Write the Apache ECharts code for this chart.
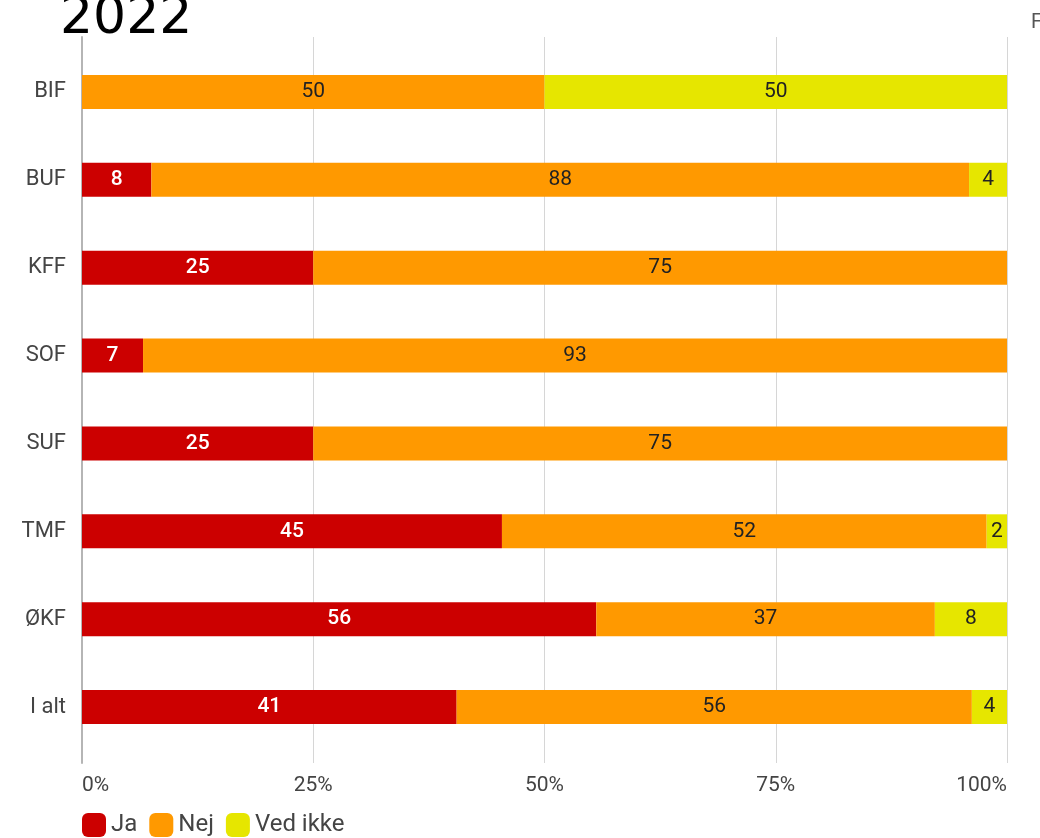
<!DOCTYPE html>
<html>
<head>
<meta charset="utf-8">
<script src="https://cdn.jsdelivr.net/npm/echarts@6/dist/echarts.min.js"></script>
<style>
    html, body { margin: 0; padding: 0; background: #fff; }
    #chart { width: 1040px; height: 838px; }
</style>
</head>
<body>
<div id="chart"></div>
<script>
// shares in percent
const categories = ['BIF', 'BUF', 'KFF', 'SOF', 'SUF', 'TMF', 'ØKF', 'I alt']
const jaValues = [0, 7.5, 25, 6.6, 25, 45.4, 55.6, 40.5]
const nejValues = [50, 88.4, 75, 93.4, 75, 52.4, 36.6, 55.7]
const vedIkkeValues = [50, 4.1, 0, 0, 0, 2.2, 7.8, 3.8]
const xTicks = [0, 25, 50, 75, 100]

const font = 'Roboto'

function makeSeries(name, data, color, labelColor) {
    return {
        name: name,
        type: 'bar',
        stack: 'total',
        xAxisIndex: 1,
        yAxisIndex: 1,
        barWidth: 34,
        data: data,
        itemStyle: { color: color },
        label: {
            show: true,
            position: 'inside',
            color: labelColor,
            fontFamily: font,
            fontSize: 21,
            fontWeight: labelColor === '#fff' ? 500 : 'normal',
            formatter: p => (p.value > 0 ? Math.round(p.value) : ''),
        },
    }
}

const chart = echarts.init(document.getElementById('chart'))
chart.setOption({
    animation: false,
    title: {
        text: '2022',
        left: 55,
        top: -12,
        textStyle: {
            fontFamily: 'DejaVu Sans',
            fontSize: 52,
            fontWeight: 'normal',
            color: '#000',
        },
    },
    graphic: [{
        type: 'text',
        left: 1031,
        top: 13,
        style: { text: 'F', fontFamily: font, fontSize: 20, fill: '#555' },
    }],
    legend: {
        left: 77,
        top: 808,
        itemWidth: 24,
        itemHeight: 24,
        itemGap: 12,
        icon: 'roundRect',
        textStyle: { fontFamily: font, fontSize: 24, color: '#444' },
        data: ['Ja', 'Nej', 'Ved ikke'],
    },
    grid: [
        { left: 82, right: 33, top: 37, bottom: 75 },
        { left: 82, right: 33, top: 48, bottom: 87 },
    ],
    xAxis: [
        {
            gridIndex: 0,
            type: 'value',
            min: 0,
            max: 100,
            interval: 25,
            axisLine: { show: false },
            axisTick: { show: false },
            splitLine: { lineStyle: { color: '#d6d6d6', width: 1 } },
            axisLabel: {
                margin: 12,
                fontFamily: font,
                fontSize: 21,
                color: '#444',
                alignMinLabel: 'left',
                alignMaxLabel: 'right',
                formatter: v => (xTicks.includes(v) ? v + '%' : ''),
            },
        },
        {
            gridIndex: 1,
            type: 'value',
            min: 0,
            max: 100,
            show: false,
        },
    ],
    yAxis: [
        {
            gridIndex: 0,
            type: 'category',
            data: categories,
            axisLine: { show: true, lineStyle: { color: '#b5b5b5', width: 2 } },
            axisTick: { show: false },
            axisLabel: { show: false },
        },
        {
            gridIndex: 1,
            type: 'category',
            inverse: true,
            data: categories,
            axisLine: { show: false },
            axisTick: { show: false },
            axisLabel: {
                margin: 16,
                fontFamily: font,
                fontSize: 22,
                color: '#444',
            },
        },
    ],
    series: [
        makeSeries('Ja', jaValues, '#cc0000', '#fff'),
        makeSeries('Nej', nejValues, '#ff9900', '#222'),
        makeSeries('Ved ikke', vedIkkeValues, '#e6e600', '#222'),
    ],
})
</script>
</body>
</html>
